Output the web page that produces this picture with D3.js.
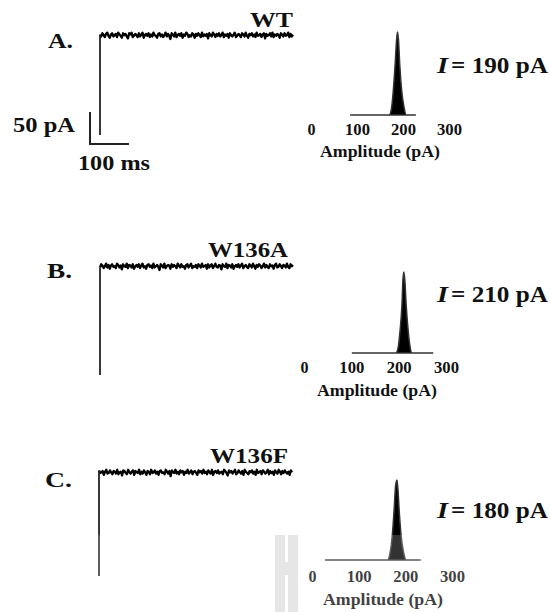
<!DOCTYPE html>
<html lang="en">
<head>
<meta charset="utf-8">
<title>Single-channel currents WT / W136A / W136F</title>
<script src="https://d3js.org/d3.v7.min.js"></script>
<style>
  body { margin: 0; background: #fff; }
  svg text { font-family: "Liberation Serif", "Times New Roman", Times, serif; font-weight: bold; fill: #111; }
</style>
</head>
<body>
<svg id="fig" width="550" height="612"></svg>
<script>
// ---- data ----
const panelLabels = ["A.", "B.", "C."];
const mutants = ["WT", "W136A", "W136F"];
const meanCurrent = [190, 210, 180];      // pA
const openLevel = [156, 170, 162];        // pA, height of the current step
const traceDuration = 495;                // ms

// noise on the open level (pA)
const noiseA = [1,-2,3,0,-3,2,4,-1,-4,1,3,-2,0,2,-3,4,1,-1,-4,3,
  0,2,-2,-5,3,1,4,-3,-1,2,0,-3,3,-2,1,4,-4,0,2,-1,
  3,-3,1,-2,4,0,-1,-4,2,3,-2,1,-3,0,4,-2,2,-1,-6,3,
  1,-2,4,-3,0,2,-1,3,-4,1,-1,4,2,-3,0,-2,3,1,-4,2,
  -1,3,0,-3,4,-2,1,-1,2,-5,3,0,-2,4,1,-3,2,-1,3,-2,
  0,4,-3,1,-1,2,-4,3,0,-2,1,4,-3,-1,2,0,-3,3,1,-2,
  4,-1,-4,2,0,3,-2,1,-3,4,-1,0,2,-3,1,3,-5,2,-1,0,
  3,-2,4,-3,1,-1,2,0,-4,3,1,-2,3,-1,0,4,-3,2,-2,1];
const noiseB = [-2,3,1,-3,0,4,-2,2,-4,1,3,-1,0,-3,4,2,-2,1,-5,3,
  0,-1,4,-3,2,1,-2,3,-4,0,2,-1,3,-3,1,4,-2,0,-4,2,
  3,-1,1,-3,4,-2,0,2,-1,-6,3,1,-2,4,-3,0,2,1,-4,3,
  -1,2,0,-3,4,1,-2,3,-1,0,-4,2,3,-2,1,4,-3,0,-1,2,
  -3,3,1,-2,4,-1,0,2,-4,3,-2,1,3,-3,0,4,-1,-2,2,1,
  -5,3,0,-1,4,-3,2,1,-2,3,-4,0,2,-1,3,-2,1,4,-3,0,
  2,-1,-3,3,1,-2,4,0,-4,2,-1,3,1,-3,0,4,-2,2,-1,-3,
  3,0,1,-4,2,4,-2,-1,3,0,-3,2,1,-2,4,-1,-3,3,0,2];
const noiseC = [3,-1,0,2,-4,1,4,-2,-1,3,0,-3,2,1,-2,4,-3,0,1,-5,
  3,2,-1,-3,4,0,-2,1,3,-4,2,0,-1,4,-3,1,-2,3,0,-4,
  2,1,-3,4,-1,0,3,-2,1,-4,2,3,-1,0,-3,4,1,-2,2,-6,
  3,0,-1,4,-2,1,-3,3,0,2,-4,1,-1,4,-2,0,3,-3,1,2,
  -1,-4,3,0,2,-2,4,-1,1,-3,3,0,-2,4,-4,1,2,-1,3,-2,
  0,1,-3,4,2,-1,-5,3,0,2,-2,1,4,-3,-1,3,0,-2,2,-4,
  4,1,-1,-3,2,0,3,-2,1,-4,4,-1,0,2,-3,3,1,-2,0,4,
  -3,2,-1,1,-4,3,0,-2,4,1,-3,2,-1,3,0,-2,1,-4,3,0];

// amplitude histograms (pA, relative count)
const histAmpA = [85, 170, 175, 179, 183, 186, 188, 190, 193, 197, 202, 207, 228];
const histCntA = [0, 0, 0.08, 0.3, 0.62, 0.9, 1, 0.92, 0.6, 0.3, 0.1, 0, 0];
const histAmpB = [101, 194, 199, 203, 207, 209, 211, 213, 216, 220, 224, 228, 273];
const histCntB = [0, 0, 0.07, 0.28, 0.6, 0.9, 1, 0.9, 0.58, 0.28, 0.08, 0, 0];
const histAmpC = [28, 162, 167, 172, 176, 179, 182, 184, 187, 191, 196, 202, 233];
const histCntC = [0, 0, 0.08, 0.3, 0.63, 0.92, 1, 0.9, 0.6, 0.3, 0.1, 0, 0];

const ampTicks = [0, 100, 200, 300];
const barCurrent = 50;   // pA
const barTime = 100;     // ms

const noises = [noiseA, noiseB, noiseC];
const histAmps = [histAmpA, histAmpB, histAmpC];
const histCnts = [histCntA, histCntB, histCntC];

// ---- layout (pixels) ----
const pxPerPA = 0.64, pxPerMs = 0.39;
const FONT = "Liberation Serif, Times New Roman, Times, serif";
const layout = [
  { x0: 100, y0: 135, label: [48, 48, 25], name: [250, 27, 43],
    h: { x0: 311, x300: 449, base: 115, top: 32, tickY: 135, title: [320, 157, 120] }, I: 73 },
  { x0: 100, y0: 375, label: [47, 278, 25], name: [208, 257, 80],
    h: { x0: 304, x300: 446, base: 353, top: 272, tickY: 373, title: [317, 396, 120] }, I: 302 },
  { x0: 99, y0: 576, label: [45, 487, 27], name: [210, 463, 78],
    h: { x0: 312, x300: 452, base: 560, top: 480, tickY: 582, title: [323, 605, 120] }, I: 518 }
];

const svg = d3.select("#fig");

function addText(g, str, x, y, w, size) {
  return g.append("text")
    .attr("x", x).attr("y", y)
    .attr("font-family", FONT)
    .attr("font-size", size)
    .attr("textLength", w)
    .attr("lengthAdjust", "spacingAndGlyphs")
    .text(str);
}

layout.forEach((L, i) => {
  const g = svg.append("g");

  // trace scales
  const x = d3.scaleLinear().domain([0, barTime]).range([L.x0, L.x0 + barTime * pxPerMs]);
  const y = d3.scaleLinear().domain([0, barCurrent]).range([L.y0, L.y0 - barCurrent * pxPerPA]);
  const noise = noises[i];
  const tIdx = d3.scaleLinear().domain([0, noise.length - 1]).range([0, traceDuration]);

  const pts = noise.map((d, k) => [tIdx(k), openLevel[i] + d]);
  g.append("path")
    .attr("d", d3.line().x(d => x(d[0])).y(d => y(d[1]))(pts))
    .attr("fill", "none")
    .attr("stroke", "#000")
    .attr("stroke-width", 2.3)
    .attr("stroke-linejoin", "round");
  // step from closed to open level
  g.append("line")
    .attr("x1", x(0)).attr("x2", x(0))
    .attr("y1", y(0)).attr("y2", y(openLevel[i] + noise[0]))
    .attr("stroke", "#222").attr("stroke-width", 1.8);

  addText(g, panelLabels[i], L.label[0], L.label[1], L.label[2], 20);
  addText(g, mutants[i], L.name[0], L.name[1], L.name[2], 21);

  // scale bar on panel A only
  if (i === 0) {
    const cx = 90, cy = 144;
    const bw = x(barTime) - x(0), bh = y(0) - y(barCurrent);
    g.append("path")
      .attr("d", `M${cx},${cy - bh}V${cy}H${cx + bw}`)
      .attr("fill", "none").attr("stroke", "#222").attr("stroke-width", 2);
    addText(g, barCurrent + " pA", 13, 132, 62, 20);
    addText(g, barTime + " ms", 78, 170, 72, 20);
  }

  // amplitude histogram
  const H = L.h;
  const hx = d3.scaleLinear().domain([0, 300]).range([H.x0, H.x300]);
  const hy = d3.scaleLinear().domain([0, 1]).range([H.base, H.top]);
  const hd = histAmps[i].map((a, k) => [a, histCnts[i][k]]);
  g.append("path")
    .attr("d", d3.area().x(d => hx(d[0])).y0(H.base).y1(d => hy(d[1])).curve(d3.curveMonotoneX)(hd))
    .attr("fill", "#000")
    .attr("stroke", "#333")
    .attr("stroke-width", 1.5);

  const ax = g.append("g")
    .attr("transform", `translate(0,${H.tickY})`)
    .call(d3.axisBottom(hx).tickValues(ampTicks).tickSize(0).tickFormat(d3.format("d")));
  ax.select(".domain").remove();
  ax.attr("font-family", null).attr("font-size", null);
  ax.selectAll("text")
    .attr("y", 0).attr("dy", null)
    .attr("font-family", FONT)
    .attr("font-size", 16)
    .attr("fill", "#111")
    .attr("textLength", d => d === 0 ? 8 : 25)
    .attr("lengthAdjust", "spacingAndGlyphs");

  addText(g, "Amplitude (pA)", H.title[0], H.title[1], H.title[2], 16);

  // mean current label
  g.append("text").attr("x", 437).attr("y", L.I)
    .attr("font-family", FONT)
    .attr("font-size", 24).attr("font-style", "italic")
    .attr("textLength", 11).attr("lengthAdjust", "spacingAndGlyphs").text("I");
  addText(g, "= " + meanCurrent[i] + " pA", 451, L.I, 97, 24);
});

// faded lower strip and grey mark of the scanned page
svg.append("rect").attr("x", 0).attr("y", 535).attr("width", 550).attr("height", 77)
  .attr("fill", "#fff").attr("opacity", 0.2);
const mark = svg.append("g").attr("fill", "#e6e6e6");
mark.append("rect").attr("x", 275).attr("y", 535).attr("width", 10).attr("height", 77);
mark.append("rect").attr("x", 288).attr("y", 535).attr("width", 10).attr("height", 77);
mark.append("rect").attr("x", 285).attr("y", 562).attr("width", 3).attr("height", 13);
</script>
</body>
</html>
